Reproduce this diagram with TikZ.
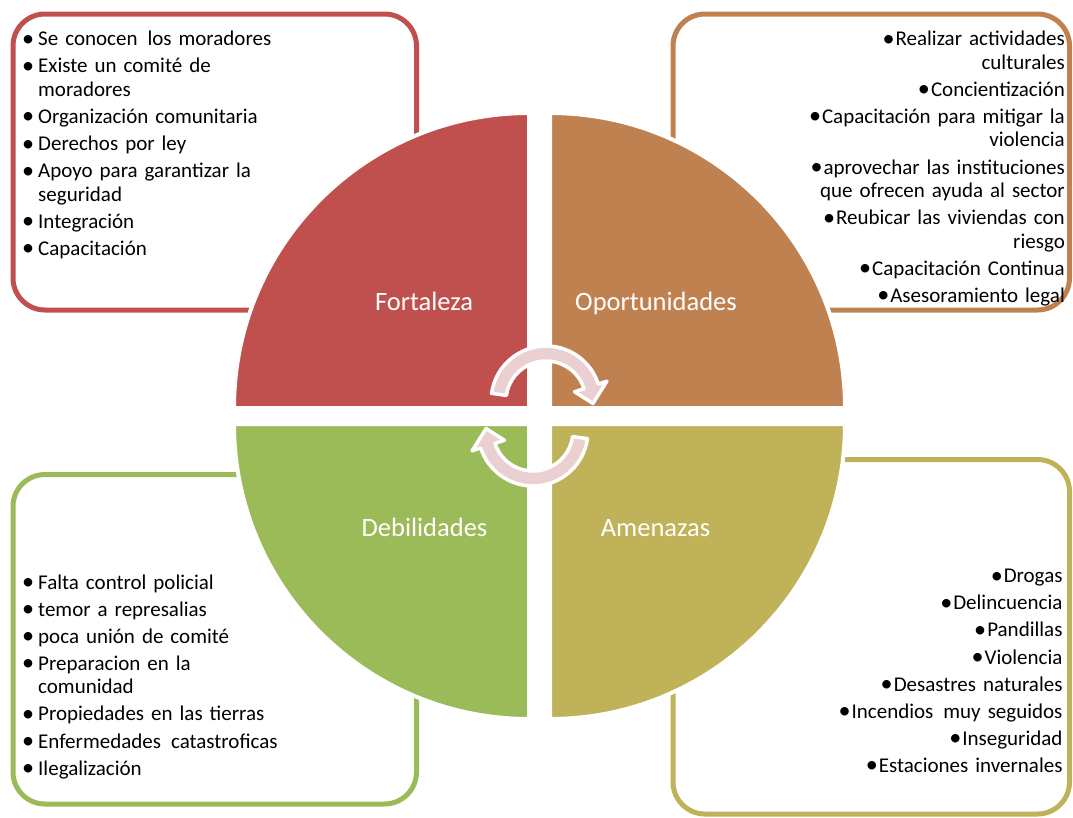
\documentclass[tikz,border=0pt]{standalone}
\usepackage{fontspec}
\setmainfont{Carlito}
\definecolor{fortred}{RGB}{192,80,77}
\definecolor{oporange}{RGB}{192,129,80}
\definecolor{debgreen}{RGB}{155,187,89}
\definecolor{amenolive}{RGB}{191,178,89}
\definecolor{arrowpink}{RGB}{234,208,209}
\tikzstyle{swotbox}=[line width=5pt,rounded corners=32pt]
\tikzstyle{quarter}=[draw=white,line width=4pt]
\tikzstyle{quartertext}=[white,anchor=base,inner sep=0pt,font={\fontsize{26.5}{30}\selectfont}]
\tikzstyle{listleft}=[anchor=base west,inner sep=0pt,text width=300pt,align=left,font={\fontsize{21}{23.5}\selectfont}]
\tikzstyle{listright}=[anchor=base east,inner sep=0pt,text width=300pt,align=right,font={\fontsize{21}{23.5}\selectfont}]
\tikzstyle{cyclearrowstyle}=[fill=arrowpink,draw=white,line width=3.5pt,line join=round]
\newcommand{\bigbul}{\raisebox{-0.5pt}{\scalebox{1.15}{\textbullet}}}
\newcommand{\bul}{\hspace*{3.6pt}\makebox[0pt][c]{\bigbul}\hspace*{10pt}}
\newcommand{\rbul}{\hspace*{3.6pt}\makebox[0pt][c]{\bigbul}\hspace*{7pt}}
\newcommand{\ind}{\hspace*{13.6pt}}
\newcommand{\isep}{\\[3.6pt]}
\newcommand{\wsp}{\hspace{3pt}}
% band arrow: #1 centre, #2 rotation
\newcommand{\cyclearrow}[2]{
  \filldraw[cyclearrowstyle,shift={#1},rotate=#2] (172:55) arc[start angle=172,end angle=18,radius=55]
    -- (18:64) -- (-3:47) -- (18:30) -- (18:40) arc[start angle=18,end angle=172,radius=40] -- cycle;
}
\begin{document}
\begin{tikzpicture}[x=1pt,y=1pt]
\useasboundingbox (0,0) rectangle (1073,-817);
% outer boxes
\draw[swotbox,fortred] (13,-14) rectangle (416.5,-310);
\draw[swotbox,oporange] (673,-14) rectangle (1069.5,-310);
\draw[swotbox,debgreen] (13,-474.5) rectangle (416.5,-804);
\draw[swotbox,amenolive] (673,-459.5) rectangle (1069.5,-814);

% the four quarters
\filldraw[quarter,fill=fortred] (529,-408) -- ++(-295,0) arc[start angle=180,end angle=90,radius=295] -- cycle;
\filldraw[quarter,fill=oporange] (550,-408) -- ++(295,0) arc[start angle=0,end angle=90,radius=295] -- cycle;
\filldraw[quarter,fill=debgreen] (529,-424) -- ++(-295,0) arc[start angle=180,end angle=270,radius=295] -- cycle;
\filldraw[quarter,fill=amenolive] (550,-424) -- ++(295,0) arc[start angle=0,end angle=-90,radius=295] -- cycle;

\node[quartertext] (fort) at (424,-310.7) {Fortaleza};
\node[quartertext] (opor) at (656,-310.7) {Oportunidades};
\node[quartertext] (debil) at (424.5,-536.7) {Debilidades};
\node[quartertext] (amen) at (655.5,-536.7) {Amenazas};

\cyclearrow{(546,-401)}{0}
\cyclearrow{(533,-431)}{180}

% lists
\node[listleft] (fortlist) at (24.4,-45.7) {\bul Se conocen \wsp los moradores\isep
  \bul Existe un comité de\\ \ind moradores\isep
  \bul Organización comunitaria\isep
  \bul Derechos por ley\isep
  \bul Apoyo para garantizar la\\ \ind seguridad\isep
  \bul Integración\isep
  \bul Capacitación};
\node[listright] (oporlist) at (1065,-45.7) {\rbul Realizar actividades\\ culturales\isep
  \rbul Concientización\isep
  \rbul Capacitación para mitigar la\\ violencia\isep
  \rbul aprovechar las instituciones\\ que ofrecen ayuda al sector\isep
  \rbul Reubicar las viviendas con\\ riesgo\isep
  \rbul Capacitación Continua\isep
  \rbul Asesoramiento legal};
\node[listleft] (debillist) at (24.4,-589) {\bul Falta control policial\isep
  \bul temor a represalias\isep
  \bul poca unión de comité\isep
  \bul Preparacion en la\\ \ind comunidad\isep
  \bul Propiedades en las tierras\isep
  \bul Enfermedades \wsp catastroficas\isep
  \bul Ilegalización};
\node[listright] (amenlist) at (1062.7,-582.7) {\rbul Drogas\isep
  \rbul Delincuencia\isep
  \rbul Pandillas\isep
  \rbul Violencia\isep
  \rbul Desastres naturales\isep
  \rbul Incendios \wsp muy seguidos\isep
  \rbul Inseguridad\isep
  \rbul Estaciones invernales};
\end{tikzpicture}
\end{document}
